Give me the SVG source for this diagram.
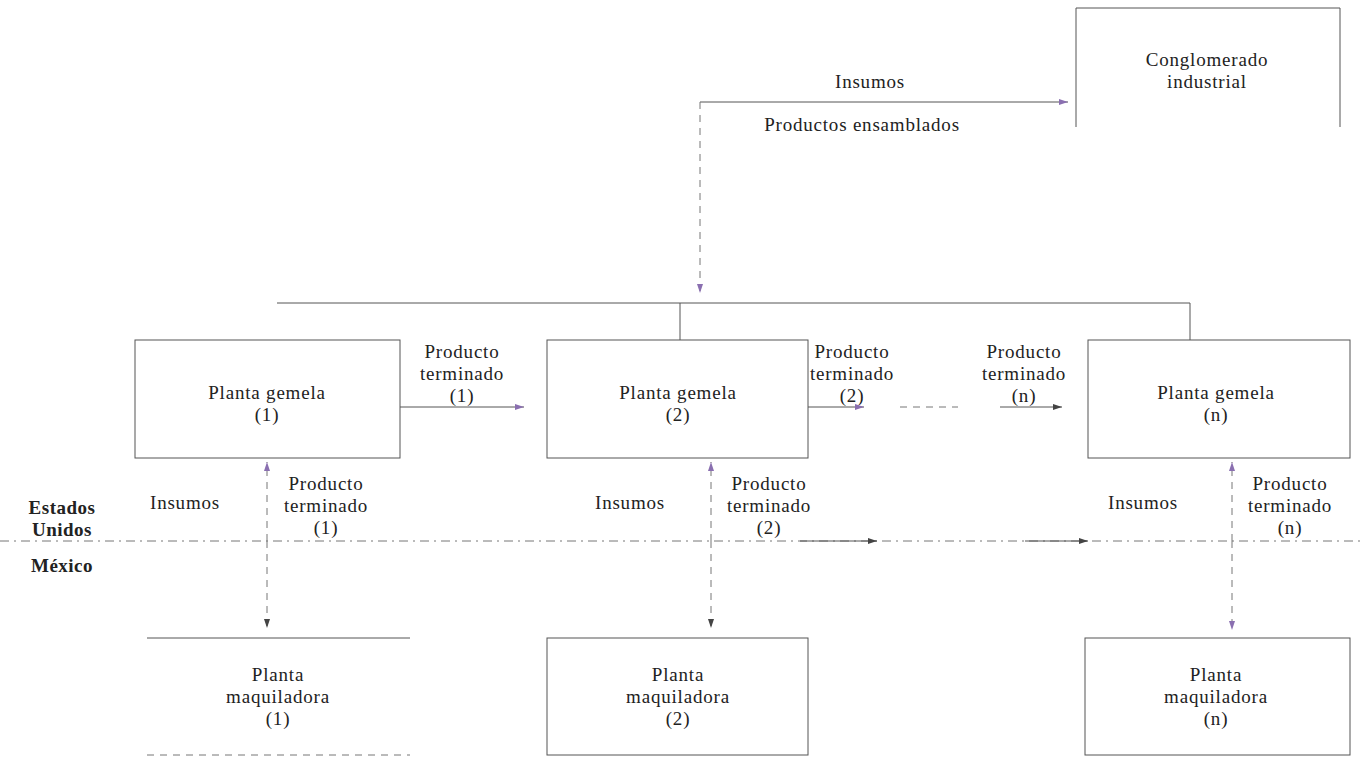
<svg xmlns="http://www.w3.org/2000/svg" width="1364" height="759" viewBox="0 0 1364 759">
<style>
.box{fill:none;stroke:#555;stroke-width:1}
.ln{fill:none;stroke:#555;stroke-width:1}
.dv{fill:none;stroke:#777;stroke-width:1;stroke-dasharray:7 6}
.dl{fill:none;stroke:#777;stroke-width:1;stroke-dasharray:9 5 2 5}
text{font-family:'Liberation Serif','Times New Roman',Times,'DejaVu Serif',serif;font-size:19px;letter-spacing:0.8px;fill:#222;text-anchor:middle}
.b{font-weight:bold;letter-spacing:0.5px}
</style>
<defs>
<marker id="ah" markerWidth="10" markerHeight="8" refX="9" refY="4" orient="auto" markerUnits="userSpaceOnUse">
<path d="M0,1 L9,4 L0,7 Z" fill="#8a6fb0"/>
</marker>
<marker id="ak" markerWidth="10" markerHeight="8" refX="9" refY="4" orient="auto" markerUnits="userSpaceOnUse">
<path d="M0,1 L9,4 L0,7 Z" fill="#444"/>
</marker>
</defs>
<rect width="1364" height="759" fill="#fff"/>

<g id="conglomerado">
<path class="box" d="M1076,127 V8 H1340 V127"/>
<text x="1207" y="66">Conglomerado</text>
<text x="1207" y="88">industrial</text>
</g>

<g id="gemela1">
<rect class="box" x="135" y="340" width="265" height="118"/>
<text x="267" y="399">Planta gemela</text>
<text x="267" y="421">(1)</text>
</g>
<g id="gemela2">
<rect class="box" x="547" y="340" width="261" height="118"/>
<text x="678" y="399">Planta gemela</text>
<text x="678" y="421">(2)</text>
</g>
<g id="gemelan">
<rect class="box" x="1088" y="340" width="262" height="118"/>
<text x="1216" y="399">Planta gemela</text>
<text x="1216" y="421">(n)</text>
</g>

<g id="maquiladora1">
<path class="box" d="M147,638 H410"/>
<path class="dv" d="M147,755 H410"/>
<text x="278" y="681">Planta</text>
<text x="278" y="703">maquiladora</text>
<text x="278" y="725">(1)</text>
</g>
<g id="maquiladora2">
<rect class="box" x="547" y="638" width="261" height="117"/>
<text x="678" y="681">Planta</text>
<text x="678" y="703">maquiladora</text>
<text x="678" y="725">(2)</text>
</g>
<g id="maquiladoran">
<rect class="box" x="1085" y="638" width="265" height="117"/>
<text x="1216" y="681">Planta</text>
<text x="1216" y="703">maquiladora</text>
<text x="1216" y="725">(n)</text>
</g>

<g id="labels">
<text x="870" y="88">Insumos</text>
<text x="862" y="131">Productos ensamblados</text>
<text x="462" y="358">Producto</text>
<text x="462" y="380">terminado</text>
<text x="462" y="402">(1)</text>
<text x="852" y="358">Producto</text>
<text x="852" y="380">terminado</text>
<text x="852" y="402">(2)</text>
<text x="1024" y="358">Producto</text>
<text x="1024" y="380">terminado</text>
<text x="1024" y="402">(n)</text>
<text x="185" y="509">Insumos</text>
<text x="326" y="490">Producto</text>
<text x="326" y="512">terminado</text>
<text x="326" y="534">(1)</text>
<text x="630" y="509">Insumos</text>
<text x="769" y="490">Producto</text>
<text x="769" y="512">terminado</text>
<text x="769" y="534">(2)</text>
<text x="1143" y="509">Insumos</text>
<text x="1290" y="490">Producto</text>
<text x="1290" y="512">terminado</text>
<text x="1290" y="534">(n)</text>
<text class="b" x="62" y="514">Estados</text>
<text class="b" x="62" y="536">Unidos</text>
<text class="b" x="62" y="572">México</text>
</g>

<g id="connectors">
<path class="ln" d="M700,102 H1068" marker-end="url(#ah)"/>
<path class="dv" d="M700,102 V293" marker-end="url(#ah)"/>
<path class="ln" d="M277,303 H1190"/>
<path class="ln" d="M680,303 V340"/>
<path class="ln" d="M1190,303 V340"/>
<path class="ln" d="M400,407 H524" marker-end="url(#ah)"/>
<path class="ln" d="M808,407 H864" marker-end="url(#ah)"/>
<path class="dv" d="M900,407 H958"/>
<path class="ln" d="M1000,407 H1062" marker-end="url(#ak)"/>
<path class="dl" d="M0,541 H1364"/>
<path class="ln" d="M800,541 H877" marker-end="url(#ak)"/>
<path class="ln" d="M1025,541 H1088" marker-end="url(#ak)"/>
<path class="dv" d="M267,541 V462" marker-end="url(#ah)"/>
<path class="dv" d="M267,541 V628" marker-end="url(#ak)"/>
<path class="dv" d="M711,541 V462" marker-end="url(#ah)"/>
<path class="dv" d="M711,541 V628" marker-end="url(#ak)"/>
<path class="dv" d="M1232,541 V462" marker-end="url(#ah)"/>
<path class="dv" d="M1232,541 V630" marker-end="url(#ah)"/>
</g>
</svg>
